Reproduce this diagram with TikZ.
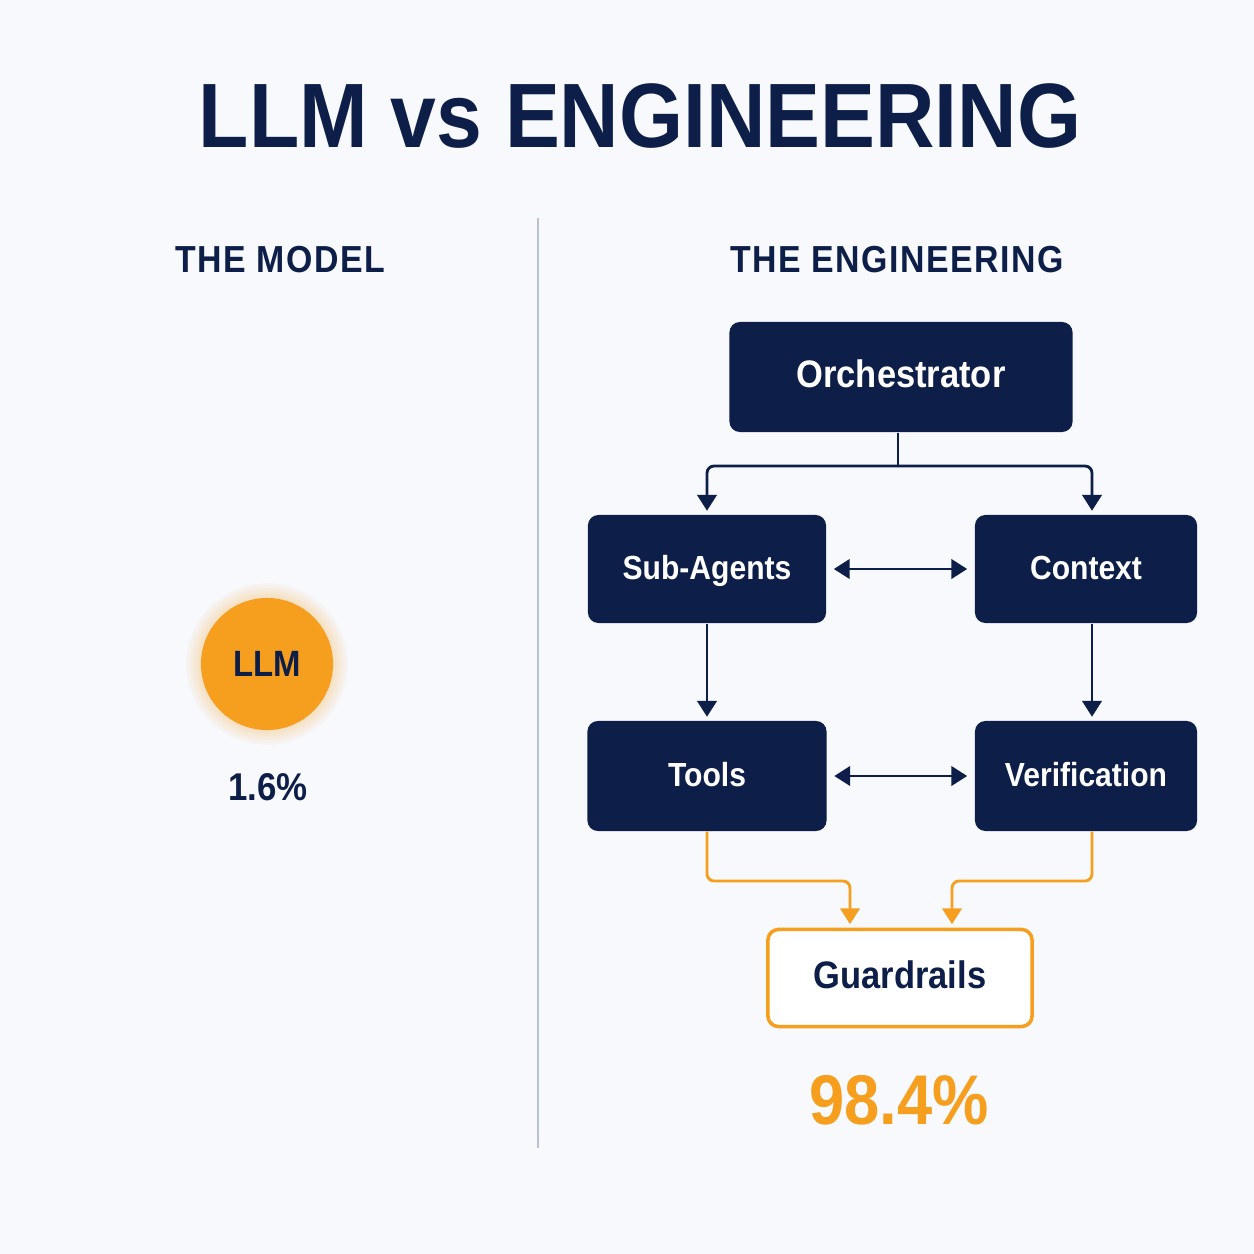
\documentclass[tikz,border=0pt]{standalone}
\usepackage{fontspec}
\setmainfont{Liberation Sans}[FakeStretch=0.9]
\newfontfamily\headfont{Liberation Sans}[FakeStretch=0.9,LetterSpace=4]
\usepackage{tikz}
\usetikzlibrary{arrows.meta}
\usetikzlibrary{calc}
\definecolor{navyblue}{RGB}{13,31,72}
\definecolor{llmorange}{RGB}{246,159,30}
\definecolor{paper}{RGB}{247,249,252}
\definecolor{dividergray}{RGB}{184,194,208}
\tikzset{
	navybox/.style={draw=none, fill=navyblue, rounded corners=3pt, text=white, text height=1.6ex, text depth=0.45ex, font=\fontsize{9.5}{11}\selectfont\bfseries},
	bigbox/.style={navybox, font=\fontsize{10.9}{13}\selectfont\bfseries},
	guardbox/.style={draw=llmorange, line width=1pt, fill=white, rounded corners=3pt, text=navyblue, text height=1.6ex, text depth=0.45ex, font=\fontsize{10.9}{13}\selectfont\bfseries},
	navyarrow/.style={draw=navyblue, line width=0.8pt, -{Triangle[length=4.5pt,width=5.5pt]}, rounded corners=2pt},
	twoway/.style={draw=navyblue, line width=0.8pt, {Triangle[length=4.5pt,width=5.5pt]}-{Triangle[length=4.5pt,width=5.5pt]}},
	orangearrow/.style={draw=llmorange, line width=0.8pt, -{Triangle[length=4.5pt,width=5.5pt]}, rounded corners=2pt},
	heading/.style={text=navyblue, font=\fontsize{10.7}{13}\selectfont\headfont\bfseries}
}

\begin{document}
\begin{tikzpicture}[x=0.01cm, y=-0.01cm]
								\def\llmrad{0.66cm}

								\fill[paper] (0,0) rectangle (1254,1254);
								\useasboundingbox (0,0) rectangle (1254,1254);

								\node[text=navyblue, font=\fontsize{26}{31}\selectfont\bfseries] (title) at (640,116) {LLM vs ENGINEERING};

								\node[heading] (modelhead) at (280,260) {THE MODEL};
								\node[heading] (enghead) at (897,260) {THE ENGINEERING};

								\coordinate (divtop) at (538,218);
								\coordinate (divbot) at (538,1148);
								\draw[dividergray, line width=0.4pt] (divtop) -- (divbot);

								\coordinate (llm) at (267,664);
								\foreach \r in {0.67,0.69,...,0.83}
									\fill[llmorange, opacity=0.035] (llm) circle (\r cm);
								\fill[llmorange] (llm) circle (\llmrad);
								\node[text=navyblue, font=\fontsize{10.4}{12}\selectfont\bfseries] (llmtext) at (llm) {LLM};
								\node[text=navyblue, font=\fontsize{11}{13}\selectfont\bfseries] (llmshare) at (268,787) {1.6\%};

								\node[bigbox, minimum width=3.43cm, minimum height=1.10cm] (orch) at (901,377) {Orchestrator};
								\node[navybox, minimum width=2.38cm, minimum height=1.08cm] (sub) at (707,569) {Sub-Agents};
								\node[navybox, minimum width=2.22cm, minimum height=1.08cm] (ctx) at (1086,569) {Context};
								\node[navybox, minimum width=2.39cm, minimum height=1.10cm] (tools) at (707,776) {Tools};
								\node[navybox, minimum width=2.22cm, minimum height=1.10cm] (verif) at (1086,776) {Verification};
								\node[guardbox, minimum width=2.64cm, minimum height=0.97cm] (guard) at (900,978) {Guardrails};

								\node[text=llmorange, font=\fontsize{20}{24}\selectfont\bfseries] (engshare) at (899,1100) {98.4\%};

								\coordinate (fork) at (898,466);
								\draw[navyblue, line width=0.8pt] (orch.south -| fork) -- (fork);
								\draw[navyarrow, shorten >=1pt] (fork) -| (sub.north);
								\draw[navyarrow, shorten >=1pt] (fork) -| ([xshift=0.06cm]ctx.north);

								\draw[twoway, shorten <=2pt, shorten >=2pt] (sub.east) -- (ctx.west);
								\draw[twoway, shorten <=2pt, shorten >=2pt] (tools.east) -- (verif.west);

								\draw[navyarrow, shorten >=1pt] (sub.south) -- (tools.north);
								\draw[navyarrow, shorten >=1pt] ([xshift=0.06cm]ctx.south) -- ([xshift=0.06cm]verif.north);

								\coordinate (gleft) at (850,881);
								\coordinate (gright) at (952,881);
								\draw[orangearrow, shorten >=1pt] (tools.south) |- (gleft) -- (gleft |- guard.north);
								\draw[orangearrow, shorten >=1pt] ([xshift=0.06cm]verif.south) |- (gright) -- (gright |- guard.north);
							\end{tikzpicture}
\end{document}
